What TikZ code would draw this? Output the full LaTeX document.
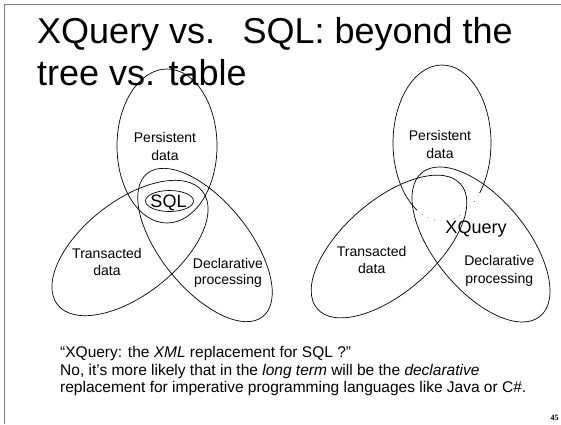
\documentclass[tikz,border=0pt]{standalone}
\usepackage{fontspec}
\setmainfont{Liberation Sans}
\newfontfamily\numfont{Liberation Serif}
\begin{document}
\begin{tikzpicture}[x=1pt,y=-1pt,
  venn/.style={draw=black,line width=0.7pt},
  faint/.style={draw=black!70,line width=0.6pt,dash pattern=on 0.7pt off 6pt},
  lbl/.style={anchor=base,inner sep=0pt,font=\fontsize{14}{17}\selectfont},
  big/.style={anchor=base,inner sep=0pt,font=\fontsize{18}{20}\selectfont},
  ttl/.style={anchor=base west,inner sep=0pt,font=\fontsize{36}{42}\selectfont},
  body/.style={anchor=base west,inner sep=0pt,font=\fontsize{15.5}{18}\selectfont}]
\useasboundingbox (0,0) rectangle (561,424);
% slide frame
\draw[black!50,line width=1pt] (4,424) -- (4,4) -- (561,4);
% title
\node[ttl] (t1) at (37,43) {XQuery vs.\hspace{14pt} SQL: beyond the};
\node[ttl] (t2) at (37,85) {tree vs. table};
% left diagram
\coordinate (lp) at (167,146);
\coordinate (lt) at (130,248);
\coordinate (ld) at (205,245);
\draw[venn] (lp) ellipse [x radius=50pt, y radius=77pt];
\draw[venn,rotate around={38:(lt)}] (lt) ellipse [x radius=92pt, y radius=47pt];
\draw[venn,rotate around={-51:(ld)}] (ld) ellipse [x radius=92pt, y radius=44pt];
\draw[venn] (169.5,201) ellipse [x radius=24pt, y radius=10.5pt];
\node[lbl] (lp1) at (165,142.5) {Persistent};
\node[lbl] (lp2) at (165,160.5) {data};
\node[lbl] (lt1) at (107,258) {Transacted};
\node[lbl] (lt2) at (107,275) {data};
\node[lbl] (ld1) at (228,268) {Declarative};
\node[lbl] (ld2) at (228,284.5) {processing};
\node[big] (sql) at (168.5,207) {SQL};
% right diagram
\coordinate (rp) at (442,143);
\coordinate (rt) at (389,246.5);
\coordinate (rd) at (481,244.5);
\draw[venn] (rp) ++(-39.9:49pt and 78pt) arc [start angle=-39.9, end angle=239.2, x radius=49pt, y radius=78pt];
\draw[faint] (rp) ++(239.2:49pt and 78pt) arc [start angle=239.2, end angle=320.1, x radius=49pt, y radius=78pt];
\draw[venn,rotate around={41:(rt)}] (rt) ellipse [x radius=95pt, y radius=46pt];
\draw[venn,rotate around={-50.5:(rd)}] (rd) ellipse [x radius=93pt, y radius=46pt];
\node[lbl] (rp1) at (440,140.7) {Persistent};
\node[lbl] (rp2) at (440,158.3) {data};
\node[lbl] (rt1) at (371.7,256.7) {Transacted};
\node[lbl] (rt2) at (371.7,273.3) {data};
\node[lbl] (rd1) at (499.3,265.5) {Declarative};
\node[lbl] (rd2) at (499.3,283.3) {processing};
\node[big] (xq) at (476,233.3) {XQuery};
% bottom text
\node[body] (b1) at (60,357.3) {“XQuery: the \textit{XML} replacement for SQL ?”};
\node[body] (b2) at (60,375) {No, it’s more likely that in the \textit{long term} will be the \textit{declarative}};
\node[body] (b3) at (60,392.7) {replacement for imperative programming languages like Java or C\#.};
\node[anchor=base,inner sep=0pt,font=\numfont\bfseries\fontsize{8}{9}\selectfont] (pg) at (554.5,420) {45};
\end{tikzpicture}
\end{document}
